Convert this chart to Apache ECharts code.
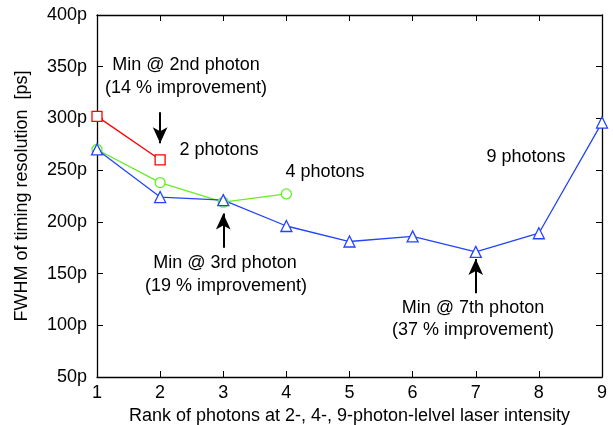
<!DOCTYPE html>
<html>
<head>
<meta charset="utf-8">
<script src="https://cdn.jsdelivr.net/npm/echarts@6/dist/echarts.min.js"></script>
<style>
  html, body {margin: 0; padding: 0; background: #fff;}
  #chart {width: 613px; height: 425px;}
</style>
</head>
<body>
<div id="chart"></div>
<script>
// Timing resolution vs. photon rank, three laser intensity levels.
const ranks2 = [1, 2]
const fwhm2 = [302, 260]
const ranks4 = [1, 2, 3, 4]
const fwhm4 = [270, 238, 219, 227]
const ranks9 = [1, 2, 3, 4, 5, 6, 7, 8, 9]
const fwhm9 = [270, 224, 221, 196, 181, 186, 171, 189, 296]

// arrows: [x, from y, to y] in data units
const arrows = [
  [2, 306, 276],
  [3, 175, 208],
  [7, 131, 164],
]

const FONT = "'Liberation Sans', Arial, sans-serif"
const TEXT = {fontFamily: FONT, fontSize: 18, color: "#000"}

function pairs(xs, ys) {
  return xs.map((x, i) => [x, ys[i]])
}

const chart = echarts.init(document.getElementById("chart"), null, {renderer: "canvas"})

const axisLine = {lineStyle: {color: "#000", width: 1.3}}
const axisTick = {inside: true, length: 6, lineStyle: {color: "#000", width: 1}}

function lineSeries(data, color, symbol) {
  return {
    type: "line",
    data,
    symbol,
    symbolSize: symbol === "triangle" ? 11 : 10,
    showSymbol: true,
    lineStyle: {color, width: 1.3},
    itemStyle: {color: "#fff", borderColor: color, borderWidth: 1.3},
    z: 3,
    animation: false,
  }
}

function annot(text, x, y) {
  return {
    type: "text",
    x, y,
    style: {text, ...TEXT, align: "center", verticalAlign: "middle"},
    z: 10,
  }
}

chart.setOption({
  backgroundColor: "#fff",
  animation: false,
  grid: {left: 97, right: 11, top: 15, bottom: 48, containLabel: false, outerBoundsMode: "none"},
  xAxis: [
    {
      type: "value",
      min: 1,
      max: 9,
      interval: 1,
      name: "Rank of photons at 2-, 4-, 9-photon-lelvel laser intensity",
      nameLocation: "middle",
      nameGap: 29,
      nameTextStyle: TEXT,
      axisLine,
      axisTick,
      axisLabel: {...TEXT, margin: 7},
      splitLine: {show: false},
    },
    {
      type: "value",
      position: "top",
      min: 1,
      max: 9,
      interval: 1,
      axisLine,
      axisTick,
      axisLabel: {show: false},
      splitLine: {show: false},
    },
  ],
  yAxis: [
    {
      type: "value",
      min: 50,
      max: 400,
      interval: 50,
      name: "FWHM of timing resolution  [ps]",
      nameLocation: "middle",
      nameGap: 66,
      nameTextStyle: TEXT,
      axisLine,
      axisTick,
      axisLabel: {...TEXT, margin: 10, formatter: v => `${v}p`},
      splitLine: {show: false},
    },
    {
      type: "value",
      position: "right",
      min: 50,
      max: 400,
      interval: 50,
      axisLine,
      axisTick,
      axisLabel: {show: false},
      splitLine: {show: false},
    },
  ],
  series: [
    lineSeries(pairs(ranks2, fwhm2), "#ff0000", "rect"),
    lineSeries(pairs(ranks4, fwhm4), "#66ee22", "circle"),
    lineSeries(pairs(ranks9, fwhm9), "#2244ff", "triangle"),
    {
      type: "line",
      data: [],
      markLine: {
        silent: true,
        symbol: ["none", "arrow"],
        symbolSize: [11, 16],
        label: {show: false},
        lineStyle: {color: "#000", width: 2, type: "solid"},
        data: arrows.map(([x, y0, y1]) => [{coord: [x, y0]}, {coord: [x, y1]}]),
      },
    },
  ],
  graphic: [
    annot("Min @ 2nd photon", 186, 65),
    annot("(14 % improvement)", 186, 88),
    annot("2 photons", 219, 150),
    annot("4 photons", 325, 172),
    annot("9 photons", 526, 157),
    annot("Min @ 3rd photon", 225, 263),
    annot("(19 % improvement)", 226, 286),
    annot("Min @ 7th photon", 473, 308),
    annot("(37 % improvement)", 473, 330),
  ],
})
</script>
</body>
</html>
